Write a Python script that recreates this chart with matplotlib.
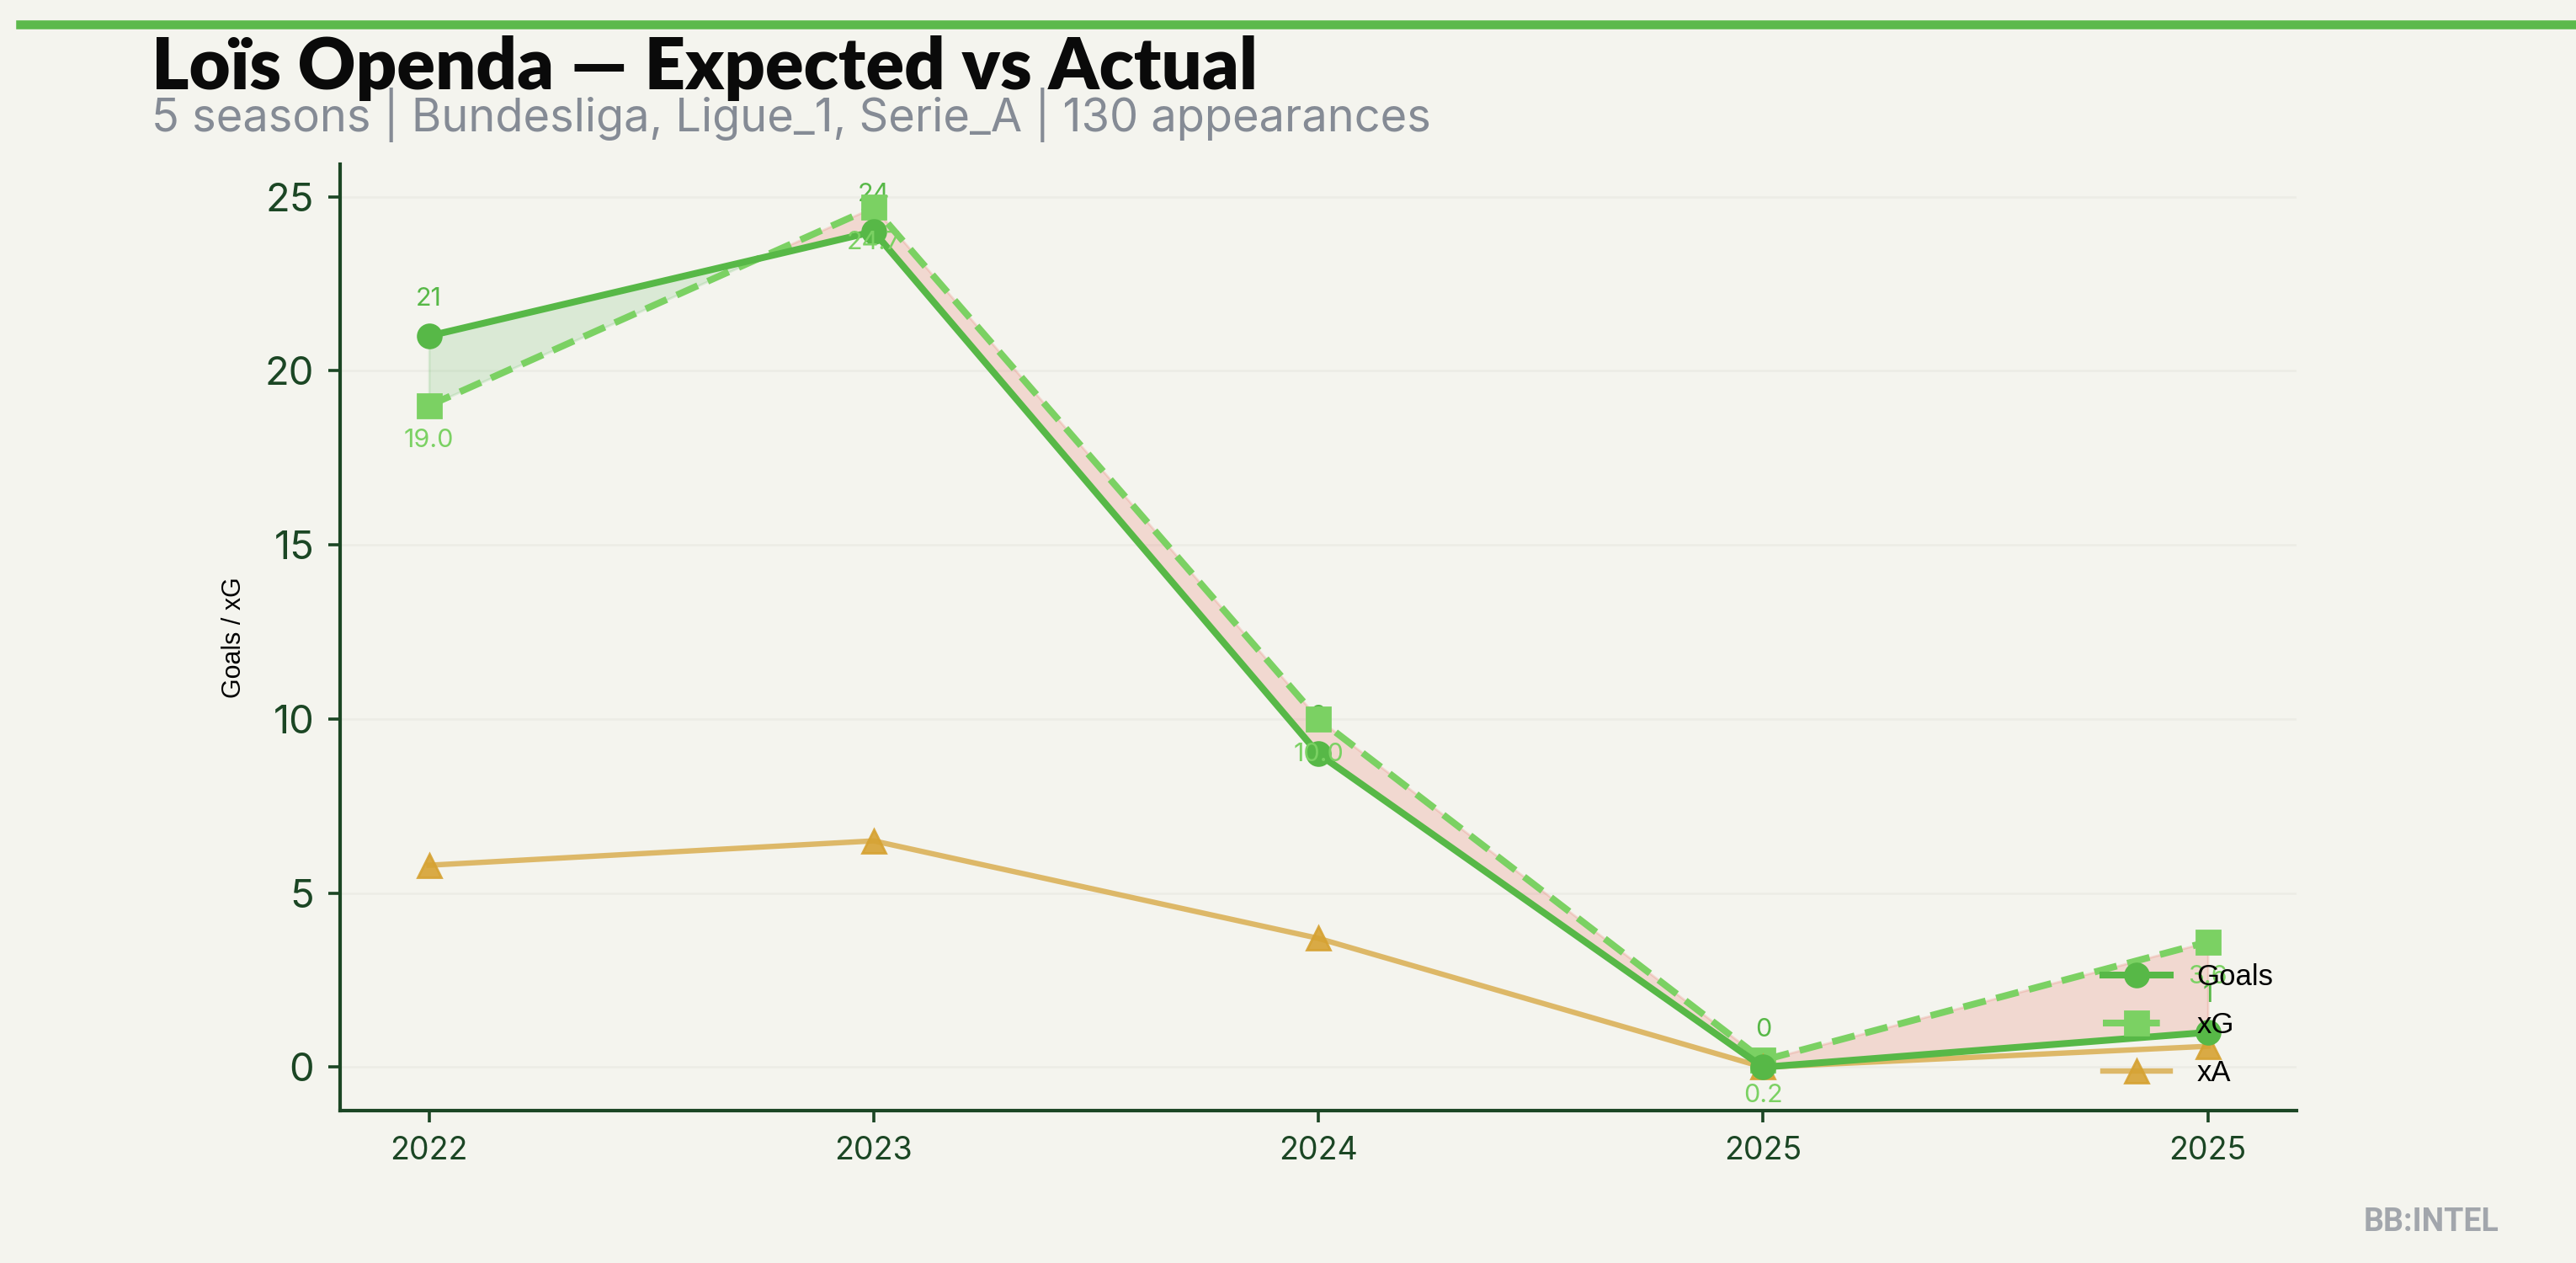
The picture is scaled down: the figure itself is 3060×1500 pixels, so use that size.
import numpy as np
import matplotlib
matplotlib.use("Agg")
import matplotlib.pyplot as plt
from matplotlib.lines import Line2D

# data
seasons = ["2022", "2023", "2024", "2025", "2025"]
goals = [21, 24, 9, 0, 1]
xg = [19.0, 24.7, 10.0, 0.2, 3.6]
xa = [5.8, 6.5, 3.7, 0.0, 0.6]

title = "Loïs Openda — Expected vs Actual"
subtitle = "5 seasons | Bundesliga, Ligue_1, Serie_A | 130 appearances"

# colours
BG = "#f4f4ee"
GOALS_C = "#57b847"
XG_C = "#7bd163"
XA_C = "#dbb25a"
XA_M = "#d6a232"
AXIS_C = "#1b4624"

x = np.arange(len(seasons))
g = np.array(goals, dtype=float)
e = np.array(xg, dtype=float)

fig = plt.figure(figsize=(15.3, 7.5), dpi=200, facecolor=BG)
ax = fig.add_axes([0.132, 0.121, 0.7596, 0.749])
ax.set_facecolor(BG)

# over / under performance shading
ax.fill_between(x, g, e, where=g >= e, interpolate=True, color="#5cb85c", alpha=0.17, lw=1)
ax.fill_between(x, g, e, where=g < e, interpolate=True, color="#e56a5c", alpha=0.2, lw=1)

ax.plot(x, g, color=GOALS_C, lw=2.9, marker="o", ms=10, zorder=4, label="Goals")
ax.plot(x, e, color=XG_C, lw=2.9, ls=(0, (3.4, 1.6)), marker="s", ms=10, zorder=3, label="xG")
ax.plot(x, xa, color=XA_C, lw=2.3, marker="^", ms=10, mfc=XA_M, mec=XA_M,
        alpha=0.9, zorder=3, label="xA")

for i in range(len(x)):
    ax.annotate(f"{goals[i]}", (x[i], goals[i]), xytext=(0, 16), textcoords="offset points",
                ha="center", va="center", fontsize=11, color=GOALS_C, family="Inter", zorder=2)
    ax.annotate(f"{xg[i]:.1f}", (x[i], xg[i]), xytext=(0, -15), textcoords="offset points",
                ha="center", va="center", fontsize=11, color=XG_C, family="Inter", zorder=5)

ax.set_xticks(x)
ax.set_xticklabels(seasons)
ax.set_yticks([0, 5, 10, 15, 20, 25])
ax.tick_params(axis="x", labelsize=13.5, colors=AXIS_C, length=5, width=1.3, pad=6)
ax.tick_params(axis="y", labelsize=17, colors=AXIS_C, length=5, width=1.3, pad=6)
for lab in ax.get_xticklabels() + ax.get_yticklabels():
    lab.set_family("Inter")
ax.grid(axis="y", color="#ececE5", lw=0.9)
ax.set_axisbelow(True)
for s in ["top", "right"]:
    ax.spines[s].set_visible(False)
for s in ["left", "bottom"]:
    ax.spines[s].set_color(AXIS_C)
    ax.spines[s].set_linewidth(1.5)

ax.set_ylabel("Goals / xG", fontsize=11, color="black", family="Liberation Sans", labelpad=8)

leg = ax.legend(loc="lower right", frameon=False, handlelength=2.3, handletextpad=0.9,
                labelspacing=0.68, borderaxespad=0.4,
                prop={"family": "Liberation Sans", "size": 12.5})

# header
fig.add_artist(Line2D([0.008, 1.0], [0.981, 0.981], color="#5cb94c", lw=3.8,
                      transform=fig.transFigure))
fig.text(0.0587, 0.929, title, fontsize=30.5, fontweight="heavy", family=["Lato", "DejaVu Sans"],
         color="#0a0a0a", va="baseline")
fig.text(0.0587, 0.896, subtitle, fontsize=19.5, family="Inter", color="#858b95", va="baseline")
fig.text(0.970, 0.025, "BB:INTEL", fontsize=13.5, fontweight="bold",
         family=["Roboto", "DejaVu Sans"], color="#a2a6ac", ha="right", va="baseline")

fig.savefig("out.png", dpi=200, facecolor=BG)
